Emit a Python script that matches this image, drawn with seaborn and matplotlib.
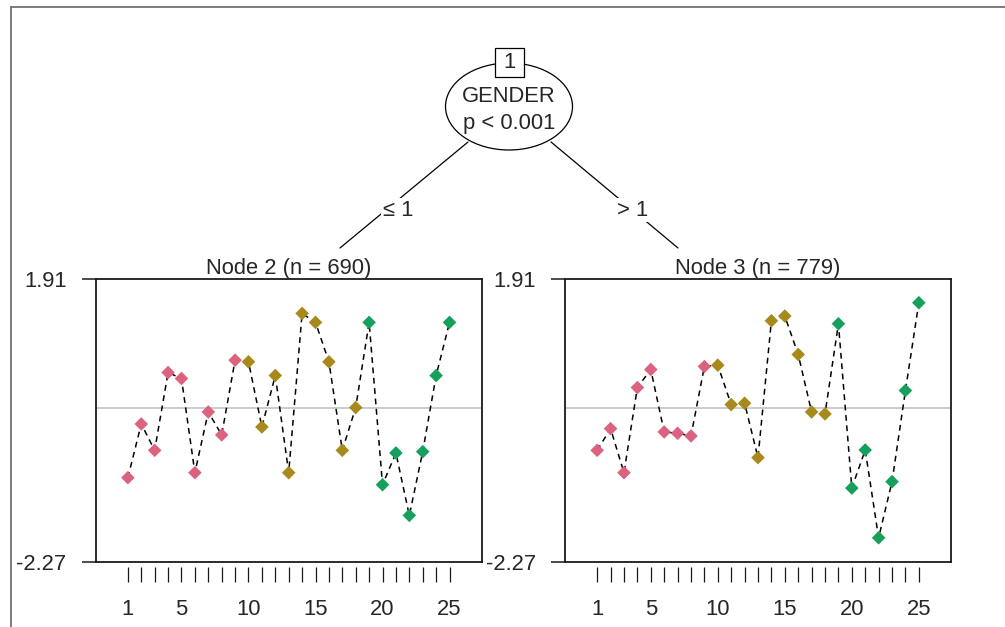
import numpy as np
import pandas as pd
import matplotlib
matplotlib.use("Agg")
import matplotlib.pyplot as plt
from matplotlib.patches import Ellipse, Rectangle
import seaborn as sns

# ---------------- data ----------------
positions = list(range(1, 26))
node2_values = [-1.03, -0.235, -0.625, 0.526, 0.438, -0.956, -0.057, -0.397, 0.709,
                0.685, -0.279, 0.482, -0.956, 1.401, 1.268, 0.685, -0.625, 0.008,
                1.268, -1.134, -0.664, -1.588, -0.645, 0.482, 1.268]
node3_values = [-0.625, -0.304, -0.956, 0.304, 0.571, -0.353, -0.373, -0.412, 0.615,
                0.635, 0.052, 0.072, -0.733, 1.292, 1.362, 0.793, -0.057, -0.086,
                1.248, -1.183, -0.620, -1.919, -1.089, 0.260, 1.559]
groups = ["g1"] * 9 + ["g2"] * 9 + ["g3"] * 7
group_colors = {"g1": "#DC6380", "g2": "#A8891C", "g3": "#16A05B"}
node_titles = ["Node 2 (n = 690)", "Node 3 (n = 779)"]
y_ticks = [-2.27, 1.91]
y_ticklabels = ["-2.27", "1.91"]
x_ticklabels_at = [1, 5, 10, 15, 20, 25]
split_var = "GENDER"
split_p = "p < 0.001"
edge_labels = ["\u2264 1", "> 1"]
ref_line = 0.0

# ---------------- style ----------------
sns.set_style("white")
plt.rcParams["font.family"] = ["Liberation Sans", "DejaVu Sans"]
FS = 15.8

W, H = 1005, 627
fig = plt.figure(figsize=(W / 100, H / 100), dpi=100)

# overlay for tree structure (pixel coordinates of the layout)
bg = fig.add_axes([0, 0, 1, 1], zorder=0)
bg.set_xlim(0, W)
bg.set_ylim(H, 0)
bg.axis("off")

# screenshot frame
bg.plot([11, 11], [7, H], color="#666666", lw=1.2)
bg.plot([11, W], [7, 7], color="#666666", lw=1.2)

# edges
bg.plot([468, 340], [142, 248], color="black", lw=0.9, zorder=1)
bg.plot([551, 678], [142, 248], color="black", lw=0.9, zorder=1)
bg.text(398, 210, edge_labels[0], ha="center", va="center", fontsize=FS,
        bbox=dict(facecolor="white", edgecolor="none", pad=1.5), zorder=2)
bg.text(633, 210, edge_labels[1], ha="center", va="center", fontsize=FS,
        bbox=dict(facecolor="white", edgecolor="none", pad=1.5), zorder=2)

# root node
bg.add_patch(Ellipse((509, 106.5), 127, 87, facecolor="white", edgecolor="black", lw=0.9, zorder=3))
bg.add_patch(Rectangle((495, 48), 29, 29, facecolor="white", edgecolor="black", lw=0.9, zorder=4))
bg.text(509.5, 63, "1", ha="center", va="center", fontsize=FS, zorder=5)
bg.text(509, 96, split_var, ha="center", va="center", fontsize=FS, zorder=5)
bg.text(509, 123, split_p, ha="center", va="center", fontsize=FS, zorder=5)

# ---------------- panels ----------------
panel_left_px = [95.7, 565.0]
panel_w_px = 386.0
panel_top_px, panel_bot_px = 279.0, 561.5

for i, vals in enumerate([node2_values, node3_values]):
    df = pd.DataFrame({"pos": positions, "value": vals, "grp": groups})
    ax = fig.add_axes([panel_left_px[i] / W, (H - panel_bot_px) / H,
                       panel_w_px / W, (panel_bot_px - panel_top_px) / H], zorder=2)
    ax.set_facecolor("white")
    ax.axhline(ref_line, color="#BEBEBE", lw=1.1, zorder=1)
    sns.lineplot(data=df, x="pos", y="value", ax=ax, color="black", lw=1.1,
                 linestyle="--", sort=False, zorder=2)
    for ln in ax.lines[1:]:
        ln.set_dashes([3.8, 3])
    sns.scatterplot(data=df, x="pos", y="value", hue="grp", palette=group_colors,
                    marker="D", s=48, edgecolor="none", legend=False, ax=ax, zorder=3)
    ax.set_xlim(-1.4, 27.4)
    ax.set_ylim(y_ticks[0], y_ticks[1])
    ax.set_xlabel("")
    ax.set_ylabel("")
    for sp in ax.spines.values():
        sp.set_visible(True)
        sp.set_color("#1a1a1a")
        sp.set_linewidth(1.3)
    ax.set_xticks([])
    ax.set_yticks(y_ticks)
    ax.set_yticklabels(y_ticklabels, fontsize=FS)
    ax.tick_params(axis="y", left=True, direction="out", length=10, width=1.1, pad=11,
                   color="#1a1a1a")
    ax.set_title(node_titles[i], fontsize=FS, pad=1.5)

    sec = ax.secondary_xaxis(-0.018)
    sec.spines["bottom"].set_visible(False)
    sec.set_xticks(positions)
    sec.set_xticklabels([str(p) if p in x_ticklabels_at else "" for p in positions], fontsize=FS)
    sec.tick_params(axis="x", bottom=True, direction="out", length=10.5, width=0.9, pad=13,
                    color="#1a1a1a")

fig.savefig("out.png", dpi=100)
